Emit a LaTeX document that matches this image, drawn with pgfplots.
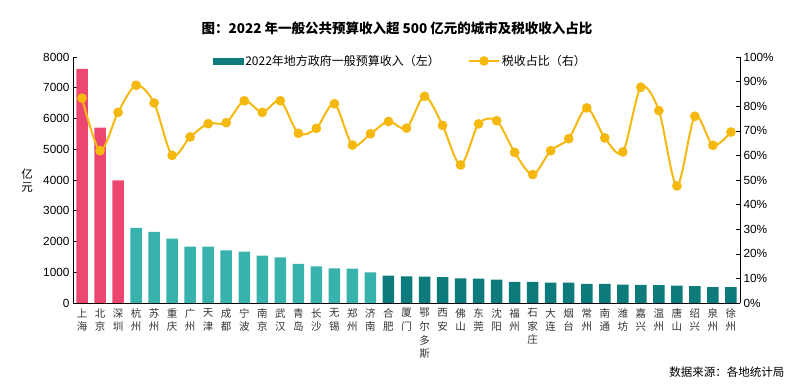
\documentclass[border=0pt]{standalone}
\usepackage{pgfplots}
\pgfplotsset{compat=1.18}
\usepackage{fontspec}
\setmainfont{Liberation Sans}
\newfontfamily\cjk{Noto Sans CJK SC}
\definecolor{pinkc}{HTML}{EC4771}
\definecolor{lteal}{HTML}{38B2AC}
\definecolor{dteal}{HTML}{0D7A7B}
\definecolor{gold}{HTML}{F5B80F}
\begin{document}
\begin{tikzpicture}[x=1pt,y=1pt]
\useasboundingbox (0,0) rectangle (792,389);
\begin{axis}[
  at={(73pt,86pt)}, anchor=south west,
  scale only axis, width=667pt, height=246pt,
  xmin=-0.5, xmax=36.5, ymin=0, ymax=8000,
  axis y line*=left, axis x line*=bottom,
  axis line style={black, line width=0.8pt},
  ytick={0,1000,...,8000},
  yticklabel style={font=\fontsize{11.8}{13}\selectfont, /pgf/number format/1000 sep={}},
  /pgf/number format/assume math mode=true,
  ytick style={black, line width=0.6pt}, major tick length=4pt,
  xtick={0,...,36},
  x tick style={draw=none},
  xticklabels={{上\\海},{北\\京},{深\\圳},{杭\\州},{苏\\州},{重\\庆},{广\\州},{天\\津},{成\\都},{宁\\波},{南\\京},{武\\汉},{青\\岛},{长\\沙},{无\\锡},{郑\\州},{济\\南},{合\\肥},{厦\\门},{鄂\\尔\\多\\斯},{西\\安},{佛\\山},{东\\莞},{沈\\阳},{福\\州},{石\\家\\庄},{大\\连},{烟\\台},{常\\州},{南\\通},{潍\\坊},{嘉\\兴},{温\\州},{唐\\山},{绍\\兴},{泉\\州},{徐\\州}},
  xticklabel style={font=\cjk\fontsize{10.5}{13.5}\selectfont, align=center, anchor=north, yshift=2pt, text=black!80},
  ybar, bar width=11.5pt,
  clip=false,
]
\addplot[fill=pinkc, draw=none, bar shift=0pt] coordinates {(0,7610)(1,5700)(2,3990)};
\addplot[fill=lteal, draw=none, bar shift=0pt] coordinates {(3,2440)(4,2310)(5,2090)(6,1830)(7,1830)(8,1715)(9,1670)(10,1540)(11,1485)(12,1270)(13,1190)(14,1130)(15,1120)(16,1000)};
\addplot[fill=dteal, draw=none, bar shift=0pt] coordinates {(17,890)(18,870)(19,860)(20,840)(21,800)(22,790)(23,760)(24,690)(25,685)(26,665)(27,665)(28,625)(29,620)(30,600)(31,590)(32,585)(33,565)(34,545)(35,520)(36,520)};
\end{axis}
\begin{axis}[
  at={(73pt,86pt)}, anchor=south west,
  scale only axis, width=667pt, height=246pt,
  xmin=-0.5, xmax=36.5, ymin=0, ymax=100,
  axis y line*=right, axis x line=none,
  axis line style={black, line width=0.8pt},
  ytick={0,10,...,100},
  yticklabel={\pgfmathprintnumber[fixed,precision=0]{\tick}\%},
  yticklabel style={font=\fontsize{11.8}{13}\selectfont},
  /pgf/number format/assume math mode=true,
  ytick style={black, line width=0.6pt}, major tick length=4pt,
  legend style={at={(0.205,1.025)}, anchor=north west, draw=none, fill=none,
    legend columns=2, font=\cjk\fontsize{12}{13}\selectfont,
    /tikz/every even column/.append style={column sep=26pt},
    legend cell align=left},
  clip=false,
]
\addlegendimage{legend image code/.code={\fill[dteal] (0pt,-3pt) rectangle (30pt,3pt);}}
\addlegendentry{2022年地方政府一般预算收入（左）}
\addplot[gold, line width=2pt, smooth, mark=*, mark size=3.8pt, mark options={fill=gold, draw=gold},
  legend image code/.code={\draw[gold, line width=2pt] (0pt,0pt) -- (30pt,0pt); \fill[gold] (15pt,0pt) circle (3.8pt);}]
coordinates {(0,83.3)(1,61.9)(2,77.5)(3,88.5)(4,81.3)(5,60.0)(6,67.5)(7,72.9)(8,73.3)(9,82.2)(10,77.5)(11,82.2)(12,69.0)(13,71.0)(14,81.0)(15,64.2)(16,68.8)(17,73.8)(18,71.1)(19,84.0)(20,72.2)(21,56.1)(22,72.8)(23,74.1)(24,61.2)(25,52.2)(26,61.9)(27,66.8)(28,79.3)(29,67.1)(30,61.4)(31,87.7)(32,78.2)(33,47.6)(34,75.9)(35,64.1)(36,69.5)};
\addlegendentry{税收占比（右）}
\end{axis}
\node[font=\cjk\bfseries\fontsize{13.5}{15}\selectfont] at (397,361) {图：2022 年一般公共预算收入超 500 亿元的城市及税收收入占比};
\node[font=\cjk\fontsize{11.5}{13}\selectfont, align=center] at (27,208) {亿\\元};
\node[font=\cjk\fontsize{11.5}{13}\selectfont, anchor=east] at (788,17) {数据来源：各地统计局};
\end{tikzpicture}
\end{document}
